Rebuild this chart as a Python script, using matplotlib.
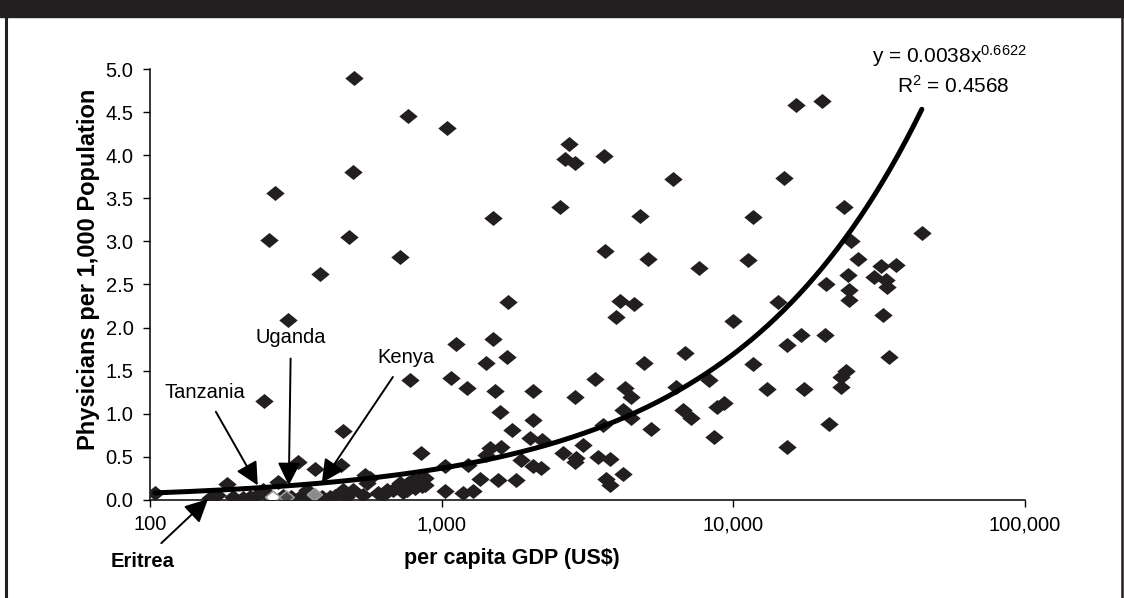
import numpy as np
import matplotlib.pyplot as plt
from matplotlib.patches import Rectangle
from matplotlib.lines import Line2D
from matplotlib.ticker import FixedLocator, FixedFormatter, FormatStrFormatter, NullLocator

plt.rcParams['font.family'] = ['Liberation Sans', 'DejaVu Sans']
plt.rcParams['mathtext.fontset'] = 'custom'
plt.rcParams['mathtext.rm'] = 'Liberation Sans'
plt.rcParams['mathtext.it'] = 'Liberation Sans:italic'

# per capita GDP (US$) and physicians per 1,000 people
gdp = [500, 767, 1040, 497, 269, 256, 482, 722, 383, 298, 246, 781, 459, 847,
       322, 367, 453, 183, 275, 545, 104,
       1080, 1216, 1415, 1679, 1519, 2055, 2853, 3360, 4955, 6800, 4266, 4464,
       4178, 4464, 3566, 5224, 6700, 7160, 1580, 1746, 2055, 2000, 2211, 1460,
       1600, 1423, 2603, 3050, 2853, 3430, 3760, 1875, 2055, 2195, 1024, 1231,
       1349, 1560, 1803, 3664, 3760, 4178, 1024, 1183, 1280, 2897,
       1687, 4070, 4545, 3963, 9950, 1117, 1500, 6360, 8230, 9310, 8815, 8610,
       2730, 2638, 2853, 3597, 6200, 1500, 2550, 4765, 3615, 5115, 7650,
       14180, 24950, 24950, 33650, 32450, 17060, 20600, 15230, 34040, 11700,
       24320, 23400, 13000, 17400, 23400, 21200, 15230, 16400, 20050, 14960,
       11700, 24000, 44260, 11250, 25400, 26650, 32050, 36060, 33350, 24620,
       20770, 30400,
       160, 169, 192, 208, 232, 244, 326, 345, 388, 413, 458, 496, 536, 553,
       566, 628, 680, 718, 759, 796, 841, 875, 604, 648, 707, 735, 765, 809,
       828, 855, 875, 220, 256, 285, 305, 350, 430, 470]
physicians = [4.89, 4.46, 4.31, 3.80, 3.56, 3.02, 3.05, 2.82, 2.62, 2.09, 1.15, 1.39, 0.80, 0.54,
              0.44, 0.36, 0.41, 0.19, 0.21, 0.29, 0.08,
              1.41, 1.30, 1.59, 1.66, 1.26, 1.26, 1.20, 1.40, 1.59, 1.70, 1.30, 1.20,
              1.04, 0.95, 0.87, 0.82, 1.04, 0.95, 1.02, 0.81, 0.93, 0.72, 0.70, 0.60,
              0.62, 0.52, 0.54, 0.64, 0.44, 0.50, 0.48, 0.46, 0.39, 0.37, 0.39, 0.41,
              0.24, 0.23, 0.23, 0.24, 0.17, 0.30, 0.10, 0.08, 0.10, 0.49,
              2.30, 2.31, 2.27, 2.12, 2.08, 1.81, 1.87, 1.31, 1.39, 1.12, 1.08, 0.73,
              4.13, 3.96, 3.91, 3.99, 3.72, 3.27, 3.40, 3.30, 2.89, 2.80, 2.69,
              2.30, 2.44, 2.32, 2.47, 2.15, 1.91, 1.91, 1.80, 1.66, 1.58,
              1.50, 1.43, 1.29, 1.29, 1.31, 0.88, 0.61, 4.58, 4.63, 3.74,
              3.28, 3.40, 3.10, 2.78, 3.01, 2.80, 2.71, 2.73, 2.55, 2.61,
              2.50, 2.59,
              0.02, 0.06, 0.03, 0.02, 0.06, 0.12, 0.03, 0.12, 0.03, 0.03, 0.12, 0.12, 0.06, 0.20,
              0.25, 0.06, 0.12, 0.20, 0.12, 0.23, 0.23, 0.17, 0.08, 0.12, 0.15, 0.09, 0.20, 0.14,
              0.23, 0.16, 0.26, 0.04, 0.03, 0.05, 0.04, 0.05, 0.05, 0.04]

# the three lighter diamonds on the base line
hl_gdp = [264, 294, 367]
hl_physicians = [0.03, 0.03, 0.06]
hl_colors = ['white', '#4a4a4a', '#8a8a8a']

# power trend line as printed on the chart
trend_a = 0.0038
trend_b = 0.6622
trend_r2 = 0.4568

countries = ['Tanzania', 'Uganda', 'Kenya', 'Eritrea']
label_xy = [(154, 1.25), (304, 1.88), (753, 1.65), (94, -0.71)]
tip_xy = [(234, 0.17), (299, 0.17), (388, 0.20), (158, 0.01)]
bold = [False, False, False, True]

xticks = [100, 1000, 10000, 100000]
xtick_labels = ['100', '1,000', '10,000', '100,000']

fig = plt.figure(figsize=(11.24, 5.98), dpi=100)
ax = fig.add_axes([0.1335, 0.1639, 0.7785, 0.7207])

diamond = [(-1, 0), (0, 0.82), (1, 0), (0, -0.82), (-1, 0)]
ax.scatter(gdp, physicians, marker=diamond, s=175, color='#231f20', linewidths=0, zorder=3)
ax.scatter(hl_gdp, hl_physicians, marker=diamond, s=120, c=hl_colors,
           edgecolors='#9a9a9a', linewidths=1.2, zorder=4)

# trend line over the range of the data
xs = np.logspace(np.log10(min(gdp)), np.log10(max(gdp)), 300)
ax.plot(xs, trend_a * xs ** trend_b, color='black', lw=3.6, zorder=5, solid_capstyle='round')

ax.set_xscale('log')
ax.set_xlim(100, 100000)
ax.set_ylim(0, 5)
ax.xaxis.set_major_locator(FixedLocator(xticks))
ax.xaxis.set_major_formatter(FixedFormatter(xtick_labels))
ax.xaxis.set_minor_locator(NullLocator())
ax.set_yticks(np.arange(0, 5.01, 0.5))
ax.yaxis.set_major_formatter(FormatStrFormatter('%.1f'))
ax.tick_params(axis='both', direction='out', length=5, width=1, labelsize=14.5, colors='black')
ax.tick_params(axis='y', pad=7)
ax.tick_params(axis='x', pad=6)
for side in ['top', 'right']:
    ax.spines[side].set_visible(False)
for side in ['left', 'bottom']:
    ax.spines[side].set_linewidth(1.1)

ax.set_xlabel('per capita GDP (US$)', fontsize=15.5, fontweight='bold')
ax.set_ylabel('Physicians per 1,000 Population', fontsize=17, fontweight='bold')
ax.xaxis.set_label_coords(0.414, -0.112)
ax.yaxis.set_label_coords(-0.057, 0.535)

for name, txy, pxy, b in zip(countries, label_xy, tip_xy, bold):
    ax.annotate(name, xy=pxy, xytext=txy, ha='center', va='center', fontsize=14.5,
                fontweight='bold' if b else 'normal', annotation_clip=False, zorder=6,
                arrowprops=dict(arrowstyle='-|>,head_length=1.0,head_width=0.5',
                                mutation_scale=14, lw=1.4, color='black',
                                shrinkA=6, shrinkB=0))

fig.text(872 / 1124, 1 - 63 / 598, 'y = %.4fx$^{\\mathrm{%.4f}}$' % (trend_a, trend_b),
         fontsize=15, ha='left', va='baseline')
fig.text(897 / 1124, 1 - 93 / 598, 'R$^{\\mathrm{2}}$ = %.4f' % trend_r2,
         fontsize=15, ha='left', va='baseline')

# page frame: black band on top, thin rules at the sides
fig.patches.append(Rectangle((0, 1 - 17 / 598), 1, 17 / 598, transform=fig.transFigure,
                             color='#231f20', zorder=0))
fig.lines.append(Line2D([5.5 / 1124, 5.5 / 1124], [0, 1], transform=fig.transFigure,
                        color='#231f20', lw=2.2))
fig.lines.append(Line2D([1121.5 / 1124, 1121.5 / 1124], [0, 1], transform=fig.transFigure,
                        color='#231f20', lw=1.8))

fig.savefig('out.png', dpi=100)
